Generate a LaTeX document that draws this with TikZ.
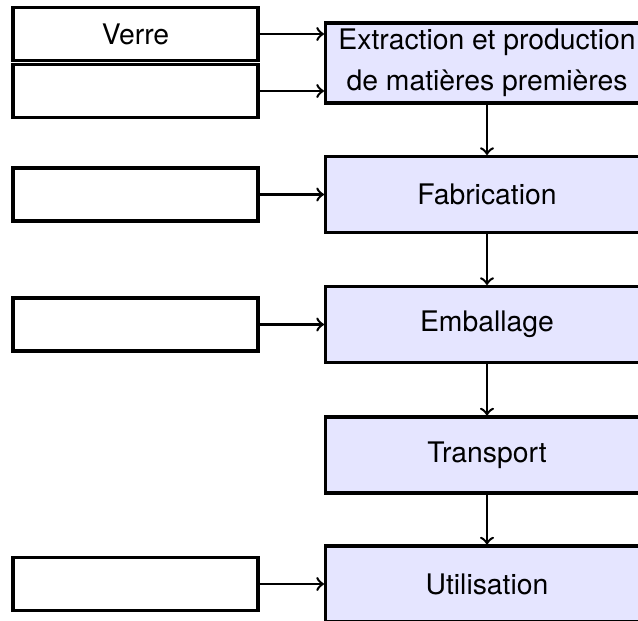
\documentclass[tikz,border=0pt]{standalone}
\usepackage{fontspec}
\setmainfont{TeX Gyre Heros}
\usetikzlibrary{calc}
\begin{document}
\begin{tikzpicture}[x=0.3636pt,y=-0.3636pt,
  stagebox/.style={draw=black, line width=1.1pt, fill=blue!10, minimum width=323*0.3636pt, minimum height=76*0.3636pt, inner sep=0pt, align=center, font=\fontsize{10.3}{15}\selectfont},
  inbox/.style={draw=black, line width=1.1pt, fill=white, minimum width=245*0.3636pt, minimum height=53*0.3636pt, inner sep=0pt, font=\fontsize{10.3}{12}\selectfont},
  flow/.style={->, line width=0.9pt}]
\clip (0,0) rectangle (638,620);
\fill[white] (0,0) rectangle (638,620);
% stages
\node[stagebox, minimum height=80*0.3636pt] (ext) at (487,63) {Extraction et production\\de matières premières};
\node[stagebox] (fab) at (487,194.5) {Fabrication};
\node[stagebox] (emb) at (487,324.5) {Emballage};
\node[stagebox] (tra) at (487,455) {Transport};
\node[stagebox] (uti) at (487,584) {Utilisation};
% inputs
\node[inbox] (i1) at (135.5,34) {Verre};
\node[inbox] (i2) at (135.5,91) {};
\node[inbox] (i3) at (135.5,194.5) {};
\node[inbox] (i4) at (135.5,324.5) {};
\node[inbox] (i5) at (135.5,584) {};
% connectors
\draw[flow] (i1.east) -- (i1.east -| ext.west);
\draw[flow] (i2.east) -- (i2.east -| ext.west);
\draw[flow] (i3.east) -- (fab.west);
\draw[flow] (i4.east) -- (emb.west);
\draw[flow] (i5.east) -- (uti.west);
\draw[flow] (ext.south) -- (fab.north);
\draw[flow] (fab.south) -- (emb.north);
\draw[flow] (emb.south) -- (tra.north);
\draw[flow] (tra.south) -- (uti.north);
\end{tikzpicture}
\end{document}
